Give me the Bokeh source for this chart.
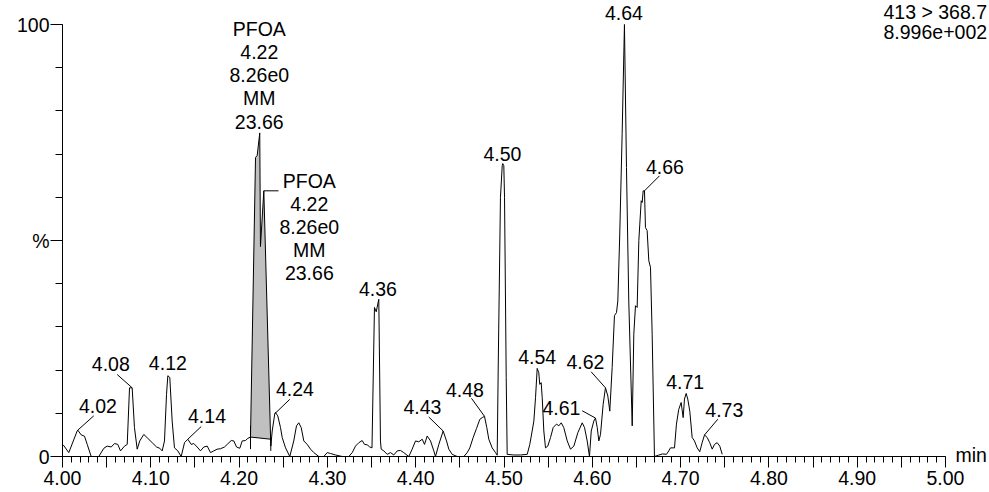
import numpy as np
from bokeh.plotting import figure
from bokeh.models import Range1d, FixedTicker, CustomJSTickFormatter, ColumnDataSource
from bokeh.core.properties import value
from bokeh.embed import file_html
from bokeh.resources import INLINE

# ---------------- data ----------------
time_min = [
    4.0008, 4.0071, 4.0166, 4.0173, 4.0212, 4.0249, 4.0280, 4.0325, 4.0411, 4.0468,
    4.0506, 4.0552, 4.0589, 4.0626, 4.0657, 4.0702, 4.0733, 4.0759, 4.0789, 4.0815,
    4.0846, 4.0875, 4.0921, 4.0966, 4.1016, 4.1065, 4.1102, 4.1129, 4.1155, 4.1178,
    4.1193, 4.1215, 4.1242, 4.1268, 4.1306, 4.1344, 4.1382, 4.1419, 4.1458, 4.1487,
    4.1525, 4.1563, 4.1600, 4.1639, 4.1676, 4.1713, 4.1752, 4.1789, 4.1835, 4.1865,
    4.1911, 4.1940, 4.1971, 4.2008, 4.2035, 4.2072, 4.2099, 4.2129, 4.2186, 4.2205,
    4.2234, 4.2242, 4.2280, 4.2359, 4.2375, 4.2404, 4.2412, 4.2438, 4.2469, 4.2488,
    4.2526, 4.2574, 4.2619, 4.2650, 4.2676, 4.2703, 4.2733, 4.2771, 4.2809, 4.2846,
    4.2903, 4.2959, 4.2998, 4.3035, 4.3092, 4.3168, 4.3242, 4.3281, 4.3318, 4.3356,
    4.3394, 4.3420, 4.3451, 4.3480, 4.3505, 4.3533, 4.3553, 4.3582, 4.3601, 4.3609,
    4.3639, 4.3677, 4.3715, 4.3752, 4.3791, 4.3828, 4.3865, 4.3922, 4.3960, 4.3998,
    4.4035, 4.4074, 4.4100, 4.4130, 4.4168, 4.4205, 4.4224, 4.4262, 4.4311, 4.4349,
    4.4375, 4.4413, 4.4470, 4.4545, 4.4583, 4.4613, 4.4651, 4.4689, 4.4726, 4.4753,
    4.4779, 4.4805, 4.4828, 4.4866, 4.4904, 4.4923, 4.4935, 4.4960, 4.4980, 4.4986,
    4.4998, 4.5006, 4.5025, 4.5036, 4.5111, 4.5187, 4.5263, 4.5292, 4.5319, 4.5338,
    4.5357, 4.5376, 4.5394, 4.5405, 4.5421, 4.5433, 4.5451, 4.5470, 4.5496, 4.5527,
    4.5557, 4.5595, 4.5621, 4.5648, 4.5677, 4.5716, 4.5753, 4.5791, 4.5836, 4.5886,
    4.5912, 4.5942, 4.5968, 4.5988, 4.6017, 4.6036, 4.6056, 4.6074, 4.6093, 4.6123,
    4.6149, 4.6176, 4.6198, 4.6225, 4.6251, 4.6274, 4.6289, 4.6311, 4.6338, 4.6364,
    4.6387, 4.6413, 4.6452, 4.6470, 4.6489, 4.6508, 4.6527, 4.6538, 4.6554, 4.6565,
    4.6576, 4.6591, 4.6602, 4.6621, 4.6640, 4.6659, 4.6678, 4.6704, 4.6749, 4.6795,
    4.6840, 4.6866, 4.6885, 4.6931, 4.6953, 4.6979, 4.7006, 4.7029, 4.7044, 4.7063,
    4.7081, 4.7104, 4.7131, 4.7157, 4.7188, 4.7217, 4.7244, 4.7271, 4.7301, 4.7330,
    4.7358, 4.7384, 4.7414, 4.7444, 4.7471,
]
intensity_pct = [
    2.7, 0.9, 5.9, 6.1, 5.0, 4.7, 2.8, 0.0, 0.0, 1.9,
    2.4, 2.2, 3.0, 2.8, 1.3, 2.4, 2.8, 15.9, 15.9, 6.7,
    1.7, 3.6, 5.1, 4.2, 3.2, 2.2, 1.9, 1.3, 3.6, 14.4,
    18.7, 18.3, 8.2, 2.0, 1.3, 0.0, 3.2, 4.0, 2.8, 3.0,
    2.2, 1.3, 2.2, 2.4, 0.9, 1.3, 1.7, 1.8, 2.2, 2.8,
    3.7, 3.6, 2.2, 1.9, 3.6, 3.7, 4.2, 4.5, 69.2, 69.7,
    74.9, 48.6, 61.5, 2.4, 5.9, 9.9, 10.2, 9.4, 6.7, 4.4,
    2.0, 0.0, 3.6, 7.1, 7.8, 6.7, 3.6, 2.8, 1.7, 0.9,
    0.0, 0.0, 0.9, 0.7, 0.35, 0.0, 0.0, 0.9, 2.4, 3.2,
    3.7, 2.8, 2.7, 2.2, 2.0, 34.5, 33.5, 36.4, 3.6, 1.7,
    1.3, 0.5, 0.9, 0.35, 1.3, 1.4, 0.9, 0.0, 1.7, 3.6,
    3.4, 4.0, 2.8, 4.75, 3.6, 1.3, 0.0, 2.8, 5.9, 3.6,
    1.7, 0.5, 0.0, 0.0, 0.9, 2.0, 4.4, 6.5, 8.6, 9.0,
    9.3, 6.7, 4.0, 2.0, 0.9, 0.3, 21.4, 60.0, 67.3, 67.8,
    67.3, 60.0, 18.3, 0.5, 0.35, 0.35, 0.5, 2.8, 5.9, 8.2,
    13.6, 20.4, 19.4, 16.7, 17.1, 13.6, 5.9, 2.0, 2.4, 4.4,
    6.7, 7.5, 7.1, 7.8, 6.7, 3.6, 1.7, 2.4, 5.5, 7.8,
    6.7, 3.6, 0.0, 5.9, 8.2, 8.9, 6.7, 3.6, 5.1, 12.1,
    15.9, 14.0, 10.5, 20.6, 32.6, 33.3, 36.0, 51.5, 74.7, 100.0,
    66.9, 36.0, 7.1, 28.3, 34.9, 34.5, 50.0, 53.8, 59.2, 58.8,
    61.5, 61.5, 53.0, 52.3, 45.3, 43.8, 28.3, 0.0, 0.3, 0.6,
    0.5, 1.3, 2.0, 2.0, 7.5, 10.9, 12.5, 9.0, 13.3, 14.6,
    13.3, 10.5, 4.4, 3.6, 2.0, 1.1, 3.2, 5.0, 4.4, 3.2,
    1.7, 2.8, 3.2, 2.4, 0.5,
]

peak_text = ["4.02", "4.08", "4.12", "4.14", "4.24", "4.36", "4.43", "4.48",
             "4.50", "4.54", "4.61", "4.62", "4.64", "4.66", "4.71", "4.73"]
peak_rt = [4.0173, 4.0789, 4.1193, 4.1419, 4.2404, 4.3582, 4.4311, 4.4779,
           4.4986, 4.5376, 4.6036, 4.6149, 4.6364, 4.6591, 4.7063, 4.7271]

pfoa_rt = [4.2234, 4.2280]
pfoa_lines = ["PFOA", "4.22", "8.26e0", "MM", "23.66"]
pfoa_int_time = [4.2129, 4.2359]
pfoa_int_base = [4.5, 4.0]
pfoa_marker_lo = [1.7, 1.3]
pfoa_marker_hi = [7.1, 4.4]

channel_lines = ["413 > 368.7", "8.996e+002"]
x_unit = "min"

x_ticks = [4.00, 4.05, 4.10, 4.15, 4.20, 4.25, 4.30, 4.35, 4.40, 4.45, 4.50,
           4.55, 4.60, 4.65, 4.70, 4.75, 4.80, 4.85, 4.90, 4.95, 5.00]
x_tick_labels = ["4.00", "", "4.10", "", "4.20", "", "4.30", "", "4.40", "", "4.50",
                 "", "4.60", "", "4.70", "", "4.80", "", "4.90", "", "5.00"]
x_minor_ticks = [round(4.0 + 0.01 * i, 2) for i in range(101)]
y_ticks = [0, 50, 100]
y_tick_labels = ["0", "%", "100"]
y_minor_ticks = [0, 10, 20, 30, 40, 50, 60, 70, 80, 90, 100]

# ---------------- layout / style ----------------
W, H = 989, 492
AXIS_X_PX = 62.0         # page x of 4.00 min
PX_PER_MIN = 883.0
ZERO_PX = 456.0          # page y of 0 %
TOP_PX = 24.0            # page y of 100 %
PX_PER_PCT = (ZERO_PX - TOP_PX) / 100.0
X_START = 4.0 - AXIS_X_PX / PX_PER_MIN
X_END = 4.0 + (W - AXIS_X_PX) / PX_PER_MIN
Y_START = -(H - ZERO_PX) / PX_PER_PCT
Y_END = ZERO_PX / PX_PER_PCT
TEXT_DY_FIX = -7.0       # compensates the renderer's baseline placement

FONT = "Liberation Sans"
FS = "19.5px"

# label offsets in px: text dx, text dy (baseline), leader dx, leader dy
label_style = {
    "4.02": (20.2, -17.6, 16, -14.3),
    "4.08": (-21.4, -16.7, -15, -13.3),
    "4.12": (0, -5.7, 0, 0),
    "4.14": (19.2, -16, 13.4, -12.7),
    "4.24": (20.2, -17.7, 15, -14.4),
    "4.36": (-0.8, -3.3, 0, 0),
    "4.43": (-20.7, -17.3, -14.4, -14),
    "4.48": (-19.5, -19.3, -13, -18),
    "4.50": (-0.3, -2.6, 0, 0),
    "4.54": (0, -4.6, 0, 0),
    "4.61": (-34, -3.3, -13.3, -7.3),
    "4.62": (-20, -18.4, -14.3, -16),
    "4.64": (-0.5, -4.4, 0, 0),
    "4.66": (20.5, -17.3, 15, -15),
    "4.71": (-1, -4.4, 0, 0),
    "4.73": (19.8, -18, 13.3, -15.7),
}

t = np.array(time_min)
yv = np.array(intensity_pct)

p = figure(width=W, height=H, x_range=Range1d(X_START, X_END), y_range=Range1d(Y_START, Y_END),
           output_backend="svg", toolbar_location=None,
           min_border_left=0, min_border_right=0, min_border_top=0, min_border_bottom=0)
p.outline_line_color = None
p.xgrid.visible = False
p.ygrid.visible = False
p.background_fill_color = "white"
p.border_fill_color = "white"

# integrated area of PFOA
s, e = pfoa_int_time
trace_s = float(np.interp(s, t, yv))
trace_e = float(np.interp(e, t, yv))
mask = (t > s) & (t < e)
pxs = [s] + list(t[mask]) + [e, e, s]
pys = [trace_s] + list(yv[mask]) + [trace_e, pfoa_int_base[1], pfoa_int_base[0]]
p.patch(pxs, pys, fill_color="#c0c0c0", line_color=None)
p.line(pfoa_int_time, pfoa_int_base, line_color="black", line_width=1)
p.segment(x0=pfoa_int_time, y0=pfoa_marker_lo, x1=pfoa_int_time, y1=pfoa_marker_hi,
          line_color="black", line_width=1)

# trace
p.line(time_min, intensity_pct, line_color="black", line_width=1)

# peak labels
lx, ly, ltxt, ldx, ldy = [], [], [], [], []
sx0, sy0, sx1, sy1 = [], [], [], []
for txt, rt in zip(peak_text, peak_rt):
    h = float(np.interp(rt, t, yv))
    tdx, tdy, kdx, kdy = label_style[txt]
    lx.append(rt); ly.append(h); ltxt.append(txt); ldx.append(tdx); ldy.append(tdy + TEXT_DY_FIX)
    if kdx or kdy:
        sx0.append(rt); sy0.append(h)
        sx1.append(rt + kdx / PX_PER_MIN); sy1.append(h - kdy / PX_PER_PCT)

# PFOA label A (above first apex), label B (right of second apex)
hA = float(np.interp(pfoa_rt[0], t, yv))
hB = float(np.interp(pfoa_rt[1], t, yv))
nl = len(pfoa_lines)
for k, line in enumerate(pfoa_lines):
    lx.append(pfoa_rt[0]); ly.append(hA); ltxt.append(line)
    ldx.append(-0.5); ldy.append(-4.4 - 23.2 * (nl - 1 - k) + TEXT_DY_FIX)
    lx.append(pfoa_rt[1]); ly.append(hB); ltxt.append(line)
    ldx.append(45.5); ldy.append(-3.3 + 23.15 * k + TEXT_DY_FIX)
sx0.append(pfoa_rt[1]); sy0.append(hB); sx1.append(pfoa_rt[1] + 14.7 / PX_PER_MIN); sy1.append(hB)

p.segment(x0=sx0, y0=sy0, x1=sx1, y1=sy1, line_color="black", line_width=1)
src = ColumnDataSource(dict(x=lx, y=ly, text=ltxt, dx=ldx, dy=ldy))
p.text(x="x", y="y", text="text", x_offset="dx", y_offset="dy", source=src,
       text_font=value(FONT), text_font_size=value(FS), text_color="black",
       text_align="center", text_baseline="alphabetic")

# channel info (top right) and axis unit
csrc = ColumnDataSource(dict(x=[5.0, 5.0, 5.0], y=[100, 100, 0],
                             text=channel_lines + [x_unit],
                             dx=[-62, -62, 10],
                             dy=[-5.7 + TEXT_DY_FIX, 14.3 + TEXT_DY_FIX, 5 + TEXT_DY_FIX]))
p.text(x="x", y="y", text="text", x_offset="dx", y_offset="dy", source=csrc,
       text_font=value(FONT), text_font_size=value(FS), text_color="black",
       text_align="left", text_baseline="alphabetic")

# axes (placed at data 0 % and 4.00 min, inside the frame)
xa = p.xaxis[0]
xa.fixed_location = 0
xa.ticker = FixedTicker(ticks=x_ticks, minor_ticks=x_minor_ticks)
xa.formatter = CustomJSTickFormatter(args=dict(tv=x_ticks, tl=x_tick_labels), code="""
for (let i = 0; i < tv.length; i++) { if (Math.abs(tick - tv[i]) < 1e-6) return tl[i]; }
return "";
""")
xa.bounds = (4.0, 5.0)
xa.major_tick_out = 11
xa.major_tick_in = 0
xa.minor_tick_out = 6
xa.minor_tick_in = 0
xa.major_label_standoff = 3

ya = p.yaxis[0]
ya.fixed_location = 4.0
ya.ticker = FixedTicker(ticks=y_ticks, minor_ticks=y_minor_ticks)
ya.formatter = CustomJSTickFormatter(args=dict(tv=y_ticks, tl=y_tick_labels), code="""
for (let i = 0; i < tv.length; i++) { if (Math.abs(tick - tv[i]) < 1e-6) return tl[i]; }
return "";
""")
ya.bounds = (0, 100)
ya.major_tick_out = 12
ya.major_tick_in = 0
ya.minor_tick_out = 7
ya.minor_tick_in = 0
ya.major_label_standoff = 1

for ax in (xa, ya):
    ax.axis_line_color = "black"
    ax.axis_line_width = 1
    ax.major_tick_line_color = "black"
    ax.minor_tick_line_color = "black"
    ax.major_tick_line_width = 1
    ax.minor_tick_line_width = 1
    ax.major_label_text_font = FONT
    ax.major_label_text_font_size = FS
    ax.major_label_text_color = "black"

open("out.html", "w").write(file_html(p, INLINE))
